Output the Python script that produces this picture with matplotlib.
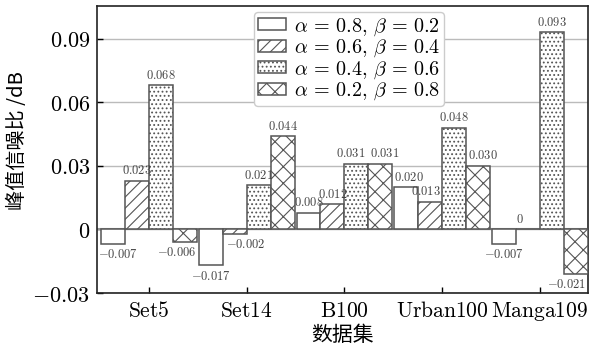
import matplotlib
matplotlib.use("Agg")
import matplotlib.pyplot as plt
import numpy as np

plt.rcParams['mathtext.fontset'] = 'cm'
plt.rcParams['font.family'] = ['DejaVu Serif']
plt.rcParams['hatch.color'] = '#555555'
plt.rcParams['hatch.linewidth'] = 0.8

categories = ['Set5', 'Set14', 'B100', 'Urban100', 'Manga109']
series_labels = [r'$\alpha\,=\,0.8,\,\beta\,=\,0.2$', r'$\alpha\,=\,0.6,\,\beta\,=\,0.4$',
                 r'$\alpha\,=\,0.4,\,\beta\,=\,0.6$', r'$\alpha\,=\,0.2,\,\beta\,=\,0.8$']
s1 = [-0.007, -0.017, 0.008, 0.020, -0.007]
s2 = [0.023, -0.002, 0.012, 0.013, 0.0]
s3 = [0.068, 0.021, 0.031, 0.048, 0.093]
s4 = [-0.006, 0.044, 0.031, 0.030, -0.021]
series = [s1, s2, s3, s4]
hatches = ['', '///', '....', 'xx']
yticks = [-0.03, 0, 0.03, 0.06, 0.09]
ytick_labels = [r'$-0.03$', r'$0$', r'$0.03$', r'$0.06$', r'$0.09$']

# label nudges in pixels (series index, category index) -> dx
nudge = {(0, 0): 5, (3, 0): -8, (1, 1): 11, (2, 2): -6, (3, 2): 4,
         (0, 3): 3, (1, 3): -4, (3, 3): 5, (1, 4): -8, (3, 4): -9}

fig = plt.figure(figsize=(5.93, 3.5), dpi=100)
ax = fig.add_axes([97/593, 1-293/350, (588-97)/593, (293-6)/350])

x = np.arange(len(categories))
w = 0.245
edge = '#555555'
for i, (vals, h, lab) in enumerate(zip(series, hatches, series_labels)):
    pos = x + (i - 1.5) * w
    ax.bar(pos, vals, width=w, facecolor='white', edgecolor=edge,
           hatch=h, linewidth=1.1, label=lab, zorder=3)
    for j, (p, v) in enumerate(zip(pos, vals)):
        txt = r'$%s$' % (('%.3f' % v) if v != 0 else '0')
        dx = nudge.get((i, j), 0) * 0.72
        if v >= 0:
            ax.annotate(txt, (p, v), xytext=(dx, 2.5), textcoords='offset points',
                        ha='center', va='bottom', fontsize=9, color='#444444', zorder=4)
        else:
            ax.annotate(txt, (p, v), xytext=(dx, -3), textcoords='offset points',
                        ha='center', va='top', fontsize=9, color='#444444', zorder=4)

ax.set_xlim(-0.53, 4.49)
ax.set_ylim(-0.03, 0.1055)
ax.set_yticks(yticks)
ax.set_yticklabels(ytick_labels, fontsize=16)
ax.set_xticks(x)
ax.set_xticklabels([r'$\mathrm{%s}$' % c for c in categories], fontsize=15.5)
ax.tick_params(direction='in', length=4, width=1, pad=5)
ax.yaxis.grid(True, color='#bbbbbb', linewidth=1.0, zorder=0)
ax.axhline(0, color='#999999', linewidth=1.5, zorder=2)
for sp in ax.spines.values():
    sp.set_linewidth(1.2)
    sp.set_color('#222222')

cjk = ['Noto Sans CJK SC', 'DejaVu Sans']
ax.set_ylabel('峰值信噪比 /dB', fontsize=14.5, family=cjk)
ax.yaxis.set_label_coords(-0.14, 0.53)
ax.set_xlabel('数据集', fontsize=15, family=cjk, labelpad=1)

leg = ax.legend(loc='upper center', bbox_to_anchor=(0.513, 1.0), fontsize=14.5,
                frameon=True, fancybox=True, edgecolor='#cccccc', framealpha=1,
                handlelength=1.4, handleheight=0.55, labelspacing=0.0,
                borderpad=0.2, handletextpad=0.4, borderaxespad=0.3)

fig.savefig('out.png', dpi=100)
